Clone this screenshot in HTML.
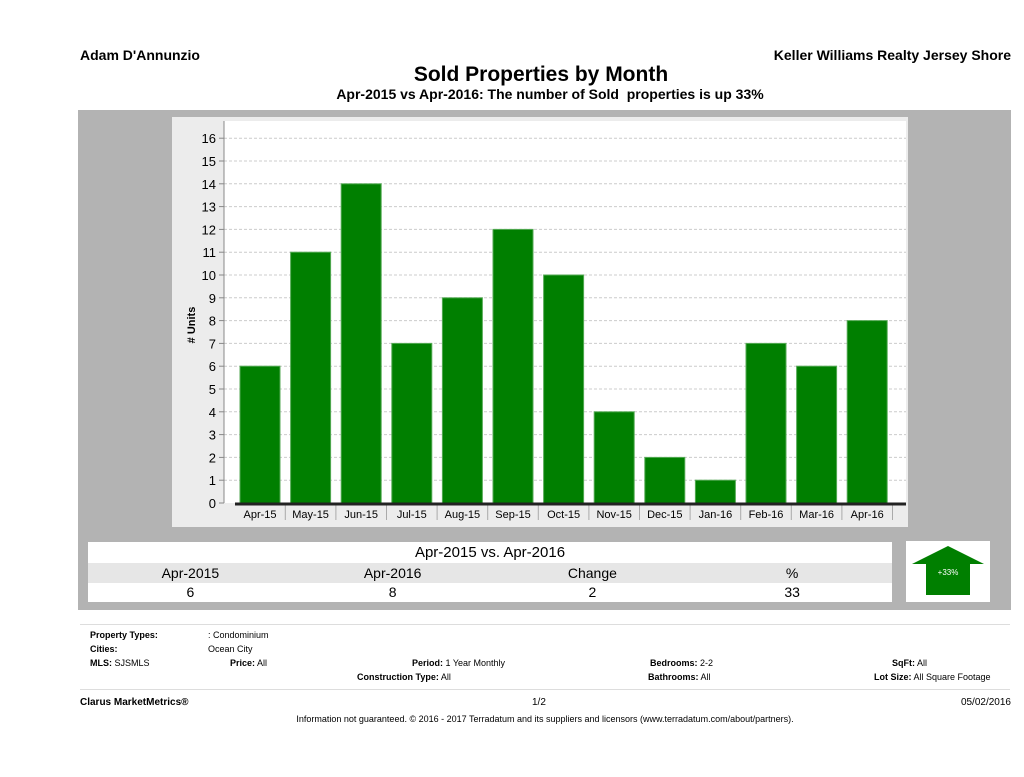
<!DOCTYPE html>
<html><head><meta charset="utf-8"><style>
body{margin:0;width:1024px;height:777px;background:#fff;font-family:"Liberation Sans",sans-serif;position:relative;overflow:hidden;color:#000}
.a{position:absolute;white-space:nowrap}
.b{font-weight:bold}
</style></head><body>
<div class="a b" style="left:80px;top:47px;font-size:14px">Adam D'Annunzio</div>
<div class="a b" style="right:13px;top:47px;font-size:14px">Keller Williams Realty Jersey Shore</div>
<div class="a b" style="left:0;width:1082px;text-align:center;top:63px;font-size:21px">Sold Properties by Month</div>
<div class="a b" style="left:0;width:1100px;text-align:center;top:86px;font-size:14px">Apr-2015 vs Apr-2016: The number of Sold&nbsp; properties is up 33%</div>
<div class="a" style="left:78px;top:110px;width:933px;height:500px;background:#b3b3b3"></div>
<div class="a" style="left:172px;top:117px;width:736px;height:410px;background:#ececec"></div>
<svg class="a" style="left:0;top:0" width="1024" height="777">
<rect x="224" y="121" width="682" height="382" fill="#fff"/>
<g id="g"></g>
<text transform="translate(195,325) rotate(-90)" text-anchor="middle" font-size="11" font-weight="bold" font-family="Liberation Sans">#&#160;Units</text>
</svg>
<script>
const categories=["Apr-15","May-15","Jun-15","Jul-15","Aug-15","Sep-15","Oct-15","Nov-15","Dec-15","Jan-16","Feb-16","Mar-16","Apr-16"];
const soldUnits=[6,11,14,7,9,12,10,4,2,1,7,6,8];
const yTicks=[0,1,2,3,4,5,6,7,8,9,10,11,12,13,14,15,16];
const NS="http://www.w3.org/2000/svg",g=document.getElementById('g');
const y=v=>503-v*22.8, x=i=>260+i*50.6;
function mk(t,a){const e=document.createElementNS(NS,t);for(const k in a)e.setAttribute(k,a[k]);g.appendChild(e);return e;}
yTicks.forEach(v=>{
 if(v>0){const l=mk('line',{x1:224,x2:906,y1:y(v),y2:y(v),stroke:'#ccc','stroke-dasharray':'3,2'});
 
 }
 mk('line',{x1:219,x2:224,y1:y(v),y2:y(v),stroke:'#888'});
 const t=mk('text',{x:216,y:y(v)+5,'text-anchor':'end','font-size':13,'font-family':'Liberation Sans'});t.textContent=v;
 
 
});
mk('line',{x1:224,x2:224,y1:121,y2:503,stroke:'#888'});
soldUnits.forEach((v,i)=>{
 const r=mk('rect',{x:x(i)-20,y:y(v),width:40,height:503-y(v),fill:'#007f00',stroke:'#5a5'});
 
 
 const t=mk('text',{x:x(i),y:518,'text-anchor':'middle','font-size':11,'font-family':'Liberation Sans'});t.textContent=categories[i];
 
 
 mk('line',{x1:x(i)+25.3,x2:x(i)+25.3,y1:505,y2:520,stroke:'#aaa'});
});
mk('line',{x1:235,x2:906,y1:504,y2:504,stroke:'#222','stroke-width':3});
</script>
<div class="a" style="left:88px;top:542px;width:804px;height:60px;font-size:14px">
 <div style="height:21px;background:#fff;text-align:center;line-height:21px;font-size:15px">Apr-2015 vs. Apr-2016</div>
 <div style="height:20px;background:#e6e6e6;display:flex;line-height:20px"><span style="width:205px;text-align:center">Apr-2015</span><span style="width:200px;text-align:center">Apr-2016</span><span style="width:200px;text-align:center">Change</span><span style="width:200px;text-align:center">%</span></div>
 <div style="height:19px;background:#fff;display:flex;line-height:19px"><span style="width:205px;text-align:center">6</span><span style="width:200px;text-align:center">8</span><span style="width:200px;text-align:center">2</span><span style="width:200px;text-align:center">33</span></div>
</div>
<div class="a" style="left:906px;top:541px;width:84px;height:61px;background:#fff">
<svg width="84" height="61"><polygon points="42,5 78,23 64,23 64,54 20,54 20,23 6,23" fill="#007f00"/><text x="42" y="34" text-anchor="middle" font-size="8" fill="#fff" font-family="Liberation Sans">+33%</text></svg></div>
<div class="a" style="left:80px;top:624px;width:930px;height:64px;border-top:1px solid #ddd;border-bottom:1px solid #ddd;font-size:9px">
<div class="a b" style="left:10px;top:5px">Property Types:</div><div class="a" style="left:128px;top:5px">: Condominium</div>
<div class="a b" style="left:10px;top:19px">Cities:</div><div class="a" style="left:128px;top:19px">Ocean City</div>
<div class="a" style="left:10px;top:33px"><b>MLS:</b> SJSMLS</div>
<div class="a" style="left:150px;top:33px"><b>Price:</b> All</div>
<div class="a" style="left:332px;top:33px"><b>Period:</b> 1 Year Monthly</div>
<div class="a" style="left:570px;top:33px"><b>Bedrooms:</b> 2-2</div>
<div class="a" style="left:812px;top:33px"><b>SqFt:</b> All</div>
<div class="a" style="left:277px;top:47px"><b>Construction Type:</b> All</div>
<div class="a" style="left:568px;top:47px"><b>Bathrooms:</b> All</div>
<div class="a" style="left:794px;top:47px"><b>Lot Size:</b> All Square Footage</div>
</div>
<div class="a b" style="left:80px;top:697px;font-size:10px">Clarus MarketMetrics®</div>
<div class="a" style="left:532px;top:697px;font-size:10px">1/2</div>
<div class="a" style="right:13px;top:697px;font-size:10px">05/02/2016</div>
<div class="a" style="left:0;width:1090px;text-align:center;top:714px;font-size:9px">Information not guaranteed. © 2016 - 2017 Terradatum and its suppliers and licensors (www.terradatum.com/about/partners).</div>
</body></html>
